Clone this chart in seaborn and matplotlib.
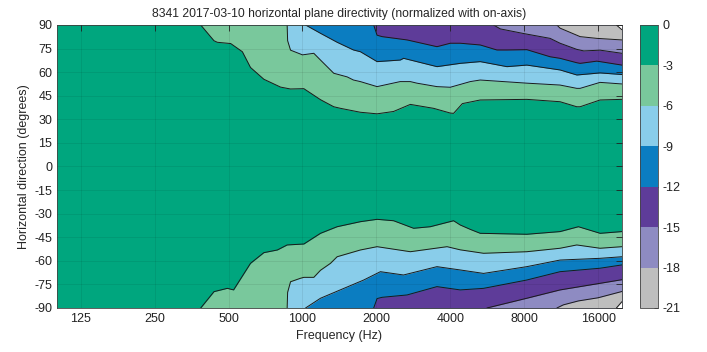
import matplotlib
matplotlib.use("Agg")
import matplotlib.pyplot as plt
import matplotlib.colors as mcolors
import matplotlib.cm as cm
import pandas as pd
import seaborn as sns

# contour levels (dB) and band colours, from 0 dB down to -21 dB
levels = [0, -3, -6, -9, -12, -15, -18, -21]
band_colors = ["#00A67E", "#79C89C", "#89CDEA", "#0B7DC1", "#5E3C99", "#8E8BC2", "#BEBEBE"]
freq_ticks = [125, 250, 500, 1000, 2000, 4000, 8000, 16000]

# contour lines: frequency (Hz) and angle (deg) where each level is reached
top_m3_hz = [385, 436, 450, 510, 569, 614, 696, 814, 893, 1013, 1184, 1341, 1428, 1721, 2013, 2350, 2750, 3420, 4000, 4125, 4480, 5295, 8200, 11200, 13100, 13520, 16300, 20000]
top_m3_deg = [90, 80, 79, 78.2, 73, 63, 55.5, 50.5, 49.3, 49.5, 42.5, 38, 37, 34.5, 33.5, 35, 39.5, 37, 34, 33.8, 40, 42.3, 42.7, 41.2, 38, 38, 42.3, 42.7]
top_m6_hz = [866, 870, 894, 1000, 1112, 1184, 1341, 1520, 1613, 1721, 2013, 2500, 2750, 2925, 3530, 4000, 4825, 5295, 8200, 11200, 13100, 13520, 16300, 20000]
top_m6_deg = [90, 80, 74, 71, 72, 67.7, 59.3, 57, 55, 54, 50.8, 54, 54, 53, 50.8, 50.4, 54, 55, 53, 51.8, 49.7, 49.7, 53.5, 52.5]
top_m9_hz = [1029, 1184, 1384, 1428, 1613, 1721, 2013, 2500, 2580, 3530, 4390, 5295, 6800, 8200, 11200, 13100, 16300, 20000]
top_m9_deg = [90, 84.7, 79, 78, 74.1, 73, 66.7, 67.7, 68.8, 63.5, 65.6, 66.7, 63.5, 64.5, 61.4, 58.2, 59.5, 58.5]
top_m12_hz = [1950, 2013, 2110, 2667, 3530, 4000, 4390, 5295, 6195, 6800, 8200, 10200, 11200, 13100, 13520, 15800, 16300, 20000]
top_m12_deg = [90, 83.5, 82.6, 80.5, 76.2, 78.4, 78.4, 77.3, 74.1, 74.1, 74.3, 69.8, 68.8, 66, 65.6, 67, 66.7, 64.5]
top_m15_hz = [6000, 6400, 8000, 10200, 11200, 13100, 14000, 16300, 20000]
top_m15_deg = [90, 87.5, 84.5, 81.5, 78.4, 74.5, 73.5, 74, 72]
top_m18_hz = [10870, 11200, 13520, 15800, 20000]
top_m18_deg = [90, 88, 82.6, 81.5, 80.5]
top_m21_hz = [19000, 20000]
top_m21_deg = [90, 87]

bot_m3_hz = [385, 436, 494, 524, 614, 696, 790, 866, 1013, 1184, 1384, 1721, 2013, 2350, 2835, 3315, 4125, 4390, 4825, 5295, 8200, 11200, 13300, 16300, 20000]
bot_m3_deg = [-90, -79.6, -77.5, -78.5, -61.6, -54.8, -53.1, -49.9, -49.3, -42.5, -38.3, -35.1, -33.6, -34.5, -39.3, -38.3, -34.5, -37.2, -40, -42.5, -43.1, -41.4, -38.3, -42.5, -41.4]
bot_m6_hz = [866, 870, 894, 981, 1013, 1112, 1184, 1300, 1384, 1721, 2013, 2750, 3880, 4390, 5465, 8200, 11200, 13100, 16300, 20000]
bot_m6_deg = [-90, -80, -73.3, -71.1, -70.5, -70.5, -66, -61.6, -57.4, -53.1, -51, -54.2, -51, -53, -55.2, -54.2, -52, -49.9, -52, -51]
bot_m9_hz = [1029, 1184, 1400, 1776, 2077, 2580, 3530, 4390, 5465, 8200, 11200, 16300, 20000]
bot_m9_deg = [-90, -83.8, -79, -72.2, -66.9, -69, -63.7, -65.8, -68, -63.7, -59.5, -58.4, -57.4]
bot_m12_hz = [1950, 2013, 2110, 2667, 3530, 4390, 5465, 8200, 11200, 16300, 20000]
bot_m12_deg = [-90, -84, -83.2, -81.7, -76.4, -78.5, -77.5, -72.2, -66.9, -64.7, -62.6]
bot_m15_hz = [5640, 8200, 11200, 16300, 20000]
bot_m15_deg = [-90, -83.8, -78.5, -74.3, -72]
bot_m18_hz = [10870, 11550, 13300, 16000, 20000]
bot_m18_deg = [-90, -88, -85.5, -83.5, -79.5]
bot_m21_hz = [19000, 20000]
bot_m21_deg = [-90, -86]

top_curves = [(top_m3_hz, top_m3_deg), (top_m6_hz, top_m6_deg), (top_m9_hz, top_m9_deg),
              (top_m12_hz, top_m12_deg), (top_m15_hz, top_m15_deg), (top_m18_hz, top_m18_deg),
              (top_m21_hz, top_m21_deg)]
bot_curves = [(bot_m3_hz, bot_m3_deg), (bot_m6_hz, bot_m6_deg), (bot_m9_hz, bot_m9_deg),
              (bot_m12_hz, bot_m12_deg), (bot_m15_hz, bot_m15_deg), (bot_m18_hz, bot_m18_deg),
              (bot_m21_hz, bot_m21_deg)]
fill_colors = band_colors[1:] + ["white"]

sns.set_style("white")
plt.rcParams["font.family"] = ["Liberation Sans", "DejaVu Sans"]
plt.rcParams["axes.unicode_minus"] = False

fig = plt.figure(figsize=(7.07, 3.52), dpi=100)
ax = fig.add_axes([0.0806, 0.125, 0.799, 0.804])
cax = fig.add_axes([0.905, 0.125, 0.0255, 0.804])

ax.set_xscale("log")
ax.set_xlim(100, 20000)
ax.set_ylim(-90, 90)
ax.set_facecolor(band_colors[0])

# bands: paint each level's region over the previous one
for (f, a), c in zip(top_curves, fill_colors):
    ax.fill_between(f, a, 90, color=c, lw=0)
for (f, a), c in zip(bot_curves, fill_colors):
    ax.fill_between(f, -90, a, color=c, lw=0)

rows = []
for side, curves in (("top", top_curves), ("bot", bot_curves)):
    for lev, (f, a) in zip(levels[1:], curves):
        for fi, ai in zip(f, a):
            rows.append({"curve": f"{side}{lev}", "freq": fi, "angle": ai})
df = pd.DataFrame(rows)
sns.lineplot(data=df, x="freq", y="angle", units="curve", estimator=None, sort=False,
             color="#1a1a1a", lw=0.7, legend=False, ax=ax)

ax.set_xticks(freq_ticks)
ax.set_xticklabels([str(t) for t in freq_ticks])
ax.minorticks_off()
ax.set_yticks(range(-90, 91, 15))
ax.tick_params(direction="in", length=4, width=0.6, top=True, right=True, labelsize=9, colors="#222222")
ax.grid(True, color="black", alpha=0.1, lw=0.5)
ax.set_axisbelow(False)
for s in ax.spines.values():
    s.set_color("#444444")
    s.set_linewidth(0.6)

ax.set_xlabel("Frequency (Hz)", fontsize=9, labelpad=4)
ax.set_ylabel("Horizontal direction (degrees)", fontsize=9, labelpad=3)
ax.set_title("8341 2017-03-10 horizontal plane directivity (normalized with on-axis)", fontsize=8.7, pad=6)

cmap = mcolors.ListedColormap(band_colors[::-1])
norm = mcolors.BoundaryNorm(levels[::-1], cmap.N)
cb = fig.colorbar(cm.ScalarMappable(norm=norm, cmap=cmap), cax=cax, ticks=levels)
cb.ax.tick_params(direction="in", length=3, width=0.6, labelsize=9, colors="#222222")
cb.outline.set_linewidth(0.6)
cb.outline.set_edgecolor("#444444")

fig.savefig("out.png", dpi=100)
